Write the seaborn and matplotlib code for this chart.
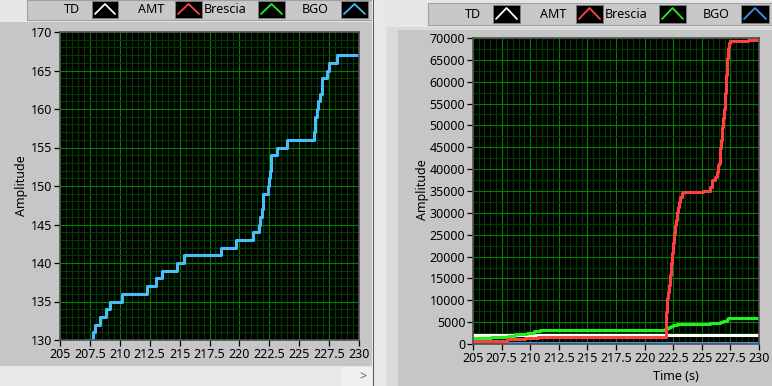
import matplotlib
matplotlib.use("Agg")
import matplotlib.pyplot as plt
import seaborn as sns
import pandas as pd
from matplotlib.patches import Rectangle
from matplotlib.lines import Line2D
from matplotlib.ticker import MultipleLocator

sns.set_style("dark")
plt.rcParams['font.family'] = ['Noto Sans', 'DejaVu Sans']
plt.rcParams['text.color'] = 'black'
plt.rcParams['xtick.color'] = 'black'
plt.rcParams['ytick.color'] = 'black'
plt.rcParams['xtick.labelcolor'] = 'black'
plt.rcParams['ytick.labelcolor'] = 'black'

# ---------------- data ----------------
series_names = ["TD", "AMT", "Brescia", "BGO"]

bgo_t = [205.0, 207.1, 207.75, 207.9, 208.35, 208.85, 209.2, 210.15, 212.25, 213.05,
         213.55, 214.75, 215.4, 218.5, 219.7, 221.1, 221.6, 221.75, 221.9, 222.0,
         222.35, 222.45, 222.55, 222.65, 223.15, 223.95, 226.25, 226.35, 226.5, 226.6,
         226.75, 226.9, 227.3, 227.5, 228.2, 230.0]
bgo_v = [129, 130, 131, 132, 133, 134, 135, 136, 137, 138,
         139, 140, 141, 142, 143, 144, 145, 146, 147, 149,
         150, 151, 152, 154, 155, 156, 157, 159, 160, 161,
         162, 164, 165, 166, 167, 167]

amt_t = [205.0, 207.95, 209.55, 210.7, 221.78, 221.84, 221.93, 222.05, 222.13, 222.22,
         222.31, 222.40, 222.48, 222.57, 222.66, 222.75, 222.86, 222.95, 223.03, 223.12,
         223.24, 223.38, 225.13, 225.72, 225.87, 226.15, 226.30, 226.39, 226.50, 226.59,
         226.68, 226.77, 226.85, 226.94, 227.03, 227.12, 227.18, 227.26, 227.35, 227.47,
         229.07, 230.0]
amt_v = [755, 1075, 1300, 1530, 1670, 7390, 10450, 11970, 13500, 15790,
         18460, 20750, 23040, 25330, 27230, 28370, 30270, 31410, 32560, 33700,
         34470, 34850, 35080, 36000, 37520, 38280, 39420, 40950, 41340, 44770,
         46670, 49720, 51630, 53760, 57350, 61540, 65360, 67650, 68790, 69320,
         69550, 69550]

brescia_t = [205.0, 206.6, 208.1, 208.7, 209.7, 210.3, 210.9, 221.8, 222.0, 222.1,
             222.35, 222.5, 222.8, 225.7, 226.6, 226.85, 227.18, 227.27, 230.0]
brescia_v = [1300, 1530, 1900, 2290, 2590, 2970, 3250, 3430, 3730, 3960,
             4190, 4350, 4580, 4880, 5100, 5330, 5640, 5880, 5880]

td_t = [205.0, 230.0]
td_v = [1950, 1950]

x_ticks = [205, 207.5, 210, 212.5, 215, 217.5, 220, 222.5, 225, 227.5, 230]
x_tick_labels = ["205", "207.5", "210", "212.5", "215", "217.5", "220", "222.5", "225", "227.5", "230"]

# ---------------- figure ----------------
W, H = 772, 386
fig = plt.figure(figsize=(W / 100, H / 100), dpi=100)
fig.patch.set_facecolor('#e6e6e6')

def frect(x0, y0, x1, y1, z=-10, **kw):
    r = Rectangle((x0 / W, 1 - y1 / H), (x1 - x0) / W, (y1 - y0) / H,
                  transform=fig.transFigure, zorder=z, **kw)
    fig.patches.append(r)
    return r

# panels / chrome (behind the axes)
frect(0, 22, 372, 366, facecolor='#c6c6c6', edgecolor='none')
frect(27, 0, 372, 20, facecolor='#c8c8c8', edgecolor='#a0a0a0', lw=0.8)
frect(0, 367, 372, 386, facecolor='#e8e8e8', edgecolor='none')
frect(342, 367, 372, 386, facecolor='#f0f0f0', edgecolor='none')
fig.text(363 / W, 1 - 377 / H, ">", fontsize=9, color='#606060', ha='center', va='center')
frect(372, 0, 386, 386, facecolor='#e8e8e8', edgecolor='none')
frect(373, 0, 374.2, 386, facecolor='#5a5a5a', edgecolor='none')
frect(387, 27, 772, 386, facecolor='#dadada', edgecolor='none')
frect(398, 30, 772, 386, facecolor='#c6c6c6', edgecolor='none')
frect(428, 3, 772, 25, facecolor='#c8c8c8', edgecolor='#a0a0a0', lw=0.8)

def legend_item(text_right, box_x0, box_x1, y0, y1, color, label):
    fig.text(text_right / W, 1 - ((y0 + y1) / 2) / H, label, fontsize=9,
             color='black', ha='right', va='center')
    frect(box_x0, y0, box_x1, y1, z=5, facecolor='black', edgecolor='#808080', lw=0.6)
    xs = [box_x0 + 3, (box_x0 + box_x1) / 2, box_x1 - 3]
    ys = [y1 - 4, y0 + 3, y1 - 4]
    fig.lines.append(Line2D([x / W for x in xs], [1 - y / H for y in ys],
                            transform=fig.transFigure, color=color, lw=1.3, zorder=6))

left_colors = ['white', '#ff4444', '#22ee22', '#45bff5']
right_colors = ['white', '#ff4444', '#22ee22', '#3a96ee']
for (tr, bx0, bx1), c, n in zip([(80, 92, 118), (164, 175, 202), (246, 258, 285), (329, 341, 368)],
                                left_colors, series_names):
    legend_item(tr, bx0, bx1, 1, 18, c, n)
for (tr, bx0, bx1), c, n in zip([(481, 493, 520), (566, 576, 603), (647, 659, 686), (730, 741, 769)],
                                right_colors, series_names):
    legend_item(tr, bx0, bx1, 5, 23, c, n)

def style_axes(ax, ymaj, ymin):
    ax.set_facecolor('black')
    ax.set_xlim(205, 230)
    ax.set_xticks(x_ticks)
    ax.set_xticklabels(x_tick_labels)
    ax.xaxis.set_minor_locator(MultipleLocator(0.5))
    ax.yaxis.set_major_locator(MultipleLocator(ymaj))
    ax.yaxis.set_minor_locator(MultipleLocator(ymin))
    ax.grid(True, which='major', color='#008200', lw=0.8)
    ax.grid(True, which='minor', color='#003c00', lw=0.8)
    ax.set_axisbelow(True)
    ax.tick_params(which='major', direction='out', length=4, width=0.9, color='black',
                   labelcolor='black', labelsize=9, pad=1.5, left=True, bottom=True)
    ax.tick_params(which='minor', length=0)
    for s in ax.spines.values():
        s.set_color('#505050')
        s.set_linewidth(1.2)
    ax.set_xlabel('')
    ax.set_ylabel('')

# left axes
axL = fig.add_axes([60 / W, 1 - 340 / H, 299 / W, 308 / H])
dfL = pd.DataFrame({'t': bgo_t, 'v': bgo_v})
sns.lineplot(data=dfL, x='t', y='v', ax=axL, color='#45bff5', lw=2.2,
             drawstyle='steps-post', estimator=None, sort=False)
axL.set_ylim(130, 170)
style_axes(axL, 5, 1)
fig.text(22 / W, 1 - 186 / H, 'Amplitude', rotation=90, fontsize=9, ha='center', va='center')

# right axes
axR = fig.add_axes([473 / W, 1 - 344 / H, 286 / W, 306 / H])
for t, v, c in [(bgo_t, bgo_v, '#3a96ee'), (td_t, td_v, 'white'),
                (brescia_t, brescia_v, '#22ee22'), (amt_t, amt_v, '#ff4040')]:
    sns.lineplot(data=pd.DataFrame({'t': t, 'v': v}), x='t', y='v', ax=axR, color=c, lw=2.2,
                 drawstyle='steps-post', estimator=None, sort=False)
axR.set_ylim(0, 70000)
style_axes(axR, 5000, 2500)
fig.text(423 / W, 1 - 190 / H, 'Amplitude', rotation=90, fontsize=9, ha='center', va='center')
fig.text(676 / W, 1 - 376 / H, 'Time (s)', fontsize=9, ha='center', va='center')

fig.savefig('out.png', dpi=100, facecolor=fig.get_facecolor())
